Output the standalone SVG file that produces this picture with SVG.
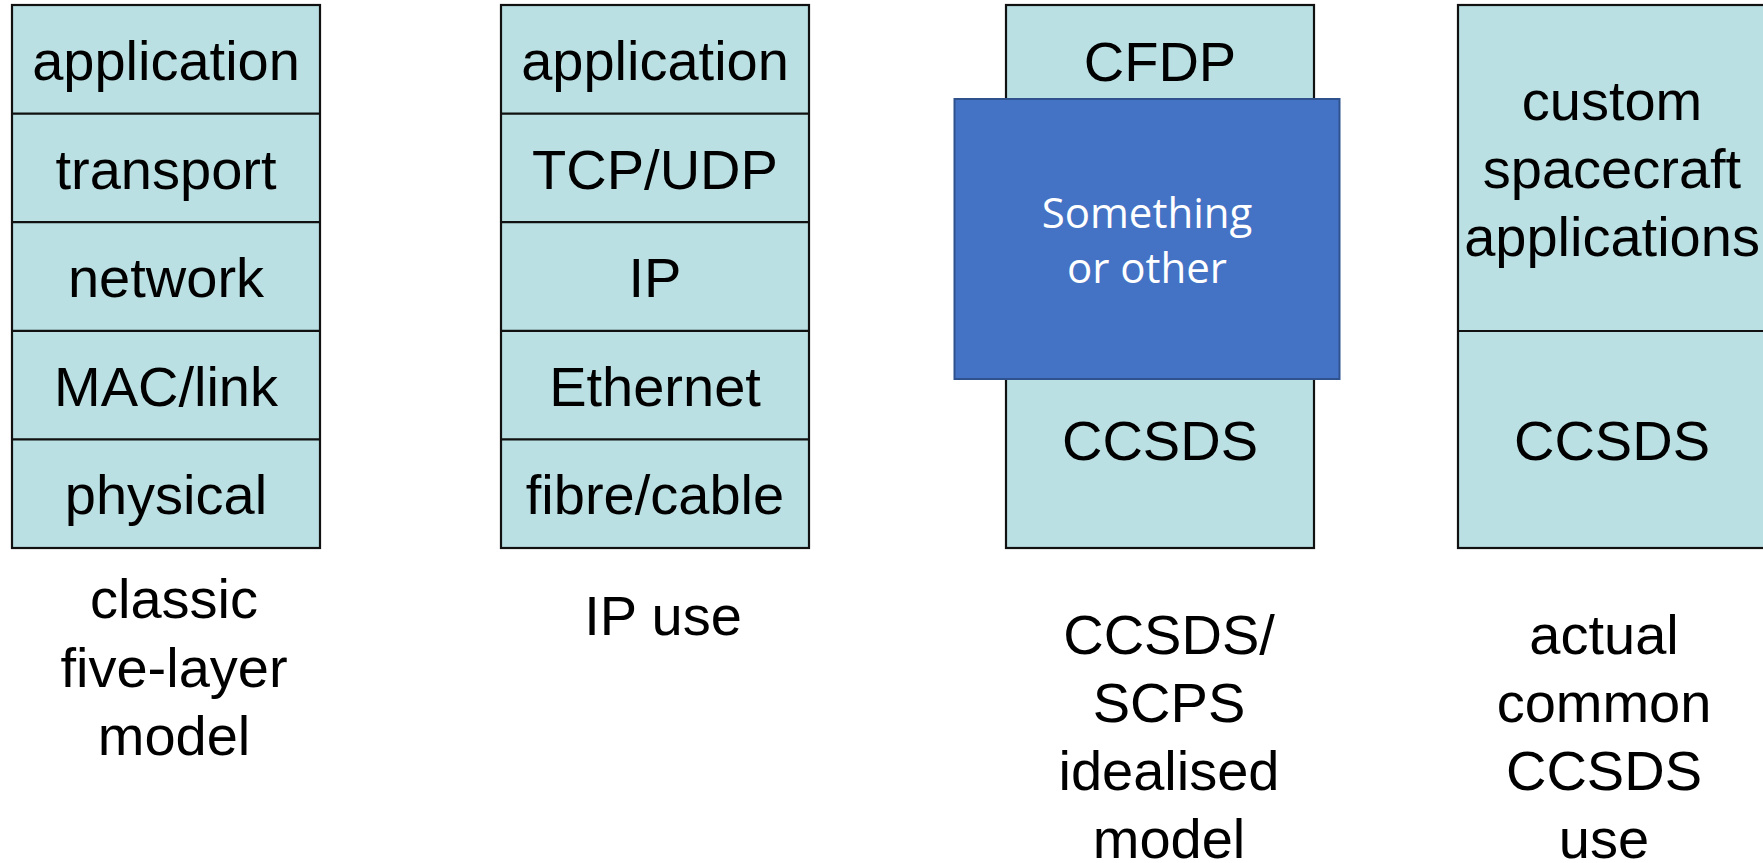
<svg xmlns="http://www.w3.org/2000/svg" width="1763" height="863" viewBox="0 0 1763 863">
<style>
.box{fill:#BAE0E3;stroke:#111;stroke-width:2.2}
.div{stroke:#111;stroke-width:2.2}
.t{font-family:"Liberation Sans",Arial,sans-serif;font-size:56px;fill:#000;text-anchor:middle}
.w{font-family:"Open Sans","Noto Sans",sans-serif;font-size:42px;fill:#fff;text-anchor:middle}
</style>
<rect width="1763" height="863" fill="#fff"/>
<g id="connectors"></g>
<g id="stack-classic">
<rect class="box" x="12" y="5" width="308" height="543"/>
<line class="div" x1="12" y1="113.6" x2="320" y2="113.6"/>
<line class="div" x1="12" y1="222.2" x2="320" y2="222.2"/>
<line class="div" x1="12" y1="330.8" x2="320" y2="330.8"/>
<line class="div" x1="12" y1="439.4" x2="320" y2="439.4"/>
<text class="t" x="166" y="80">application</text>
<text class="t" x="166" y="189">transport</text>
<text class="t" x="166" y="297">network</text>
<text class="t" x="166" y="406">MAC/link</text>
<text class="t" x="166" y="514">physical</text>
</g>
<g id="stack-ip">
<rect class="box" x="501" y="5" width="308" height="543"/>
<line class="div" x1="501" y1="113.6" x2="809" y2="113.6"/>
<line class="div" x1="501" y1="222.2" x2="809" y2="222.2"/>
<line class="div" x1="501" y1="330.8" x2="809" y2="330.8"/>
<line class="div" x1="501" y1="439.4" x2="809" y2="439.4"/>
<text class="t" x="655" y="80">application</text>
<text class="t" x="655" y="189">TCP/UDP</text>
<text class="t" x="655" y="297">IP</text>
<text class="t" x="655" y="406">Ethernet</text>
<text class="t" x="655" y="514">fibre/cable</text>
</g>
<g id="stack-ccsds-ideal">
<rect class="box" x="1006" y="5" width="308" height="543"/>
<text class="t" x="1160" y="81">CFDP</text>
<text class="t" x="1160" y="460">CCSDS</text>
</g>
<g id="something-or-other">
<rect x="954.5" y="99" width="385" height="280" fill="#4472C4" stroke="#2F528F" stroke-width="2"/>
<text class="w" x="1147" y="228">Something</text>
<text class="w" x="1147" y="283">or other</text>
</g>
<g id="stack-ccsds-actual">
<rect class="box" x="1458" y="5" width="310" height="543"/>
<line class="div" x1="1458" y1="331" x2="1768" y2="331"/>
<text class="t" x="1612" y="120">custom</text>
<text class="t" x="1612" y="188">spacecraft</text>
<text class="t" x="1612" y="256">applications</text>
<text class="t" x="1612" y="460">CCSDS</text>
</g>
<g id="label-classic">
<text class="t" x="174" y="618">classic</text>
<text class="t" x="174" y="687">five-layer</text>
<text class="t" x="174" y="755">model</text>
</g>
<g id="label-ip">
<text class="t" x="663" y="635">IP use</text>
</g>
<g id="label-ideal">
<text class="t" x="1169" y="654">CCSDS/</text>
<text class="t" x="1169" y="722">SCPS</text>
<text class="t" x="1169" y="790">idealised</text>
<text class="t" x="1169" y="858">model</text>
</g>
<g id="label-actual">
<text class="t" x="1604" y="654">actual</text>
<text class="t" x="1604" y="722">common</text>
<text class="t" x="1604" y="790">CCSDS</text>
<text class="t" x="1604" y="858">use</text>
</g>
</svg>
